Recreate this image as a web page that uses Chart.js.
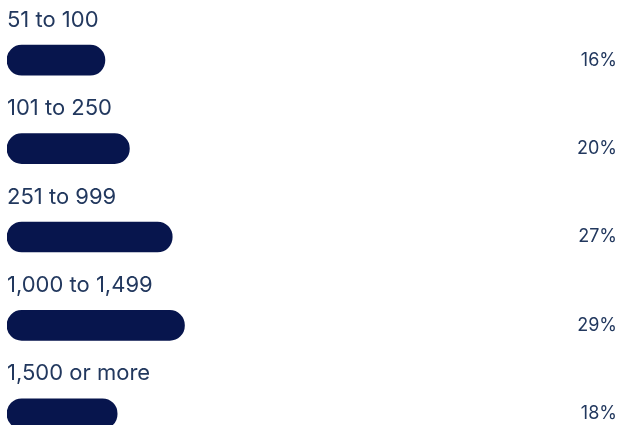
<!DOCTYPE html>
<html>
<head>
<meta charset="utf-8">
<script src="https://cdn.jsdelivr.net/npm/chart.js@4"></script>
<style>
  html, body { margin: 0; padding: 0; background: #ffffff; overflow: hidden; }
  #wrap { position: relative; width: 619px; height: 460px; }
</style>
</head>
<body>
<div id="wrap"><canvas id="c"></canvas></div>
<script>
const categories = ["51 to 100", "101 to 250", "251 to 999", "1,000 to 1,499", "1,500 or more"];
const values = [16, 20, 27, 29, 18];
const valueLabels = ["16%", "20%", "27%", "29%", "18%"];

const barColor = "#07154d";
const textColor = "#22385e";
const fontFamily = "Inter, 'Open Sans', sans-serif";

const labelPlugin = {
  id: "rowLabels",
  afterDatasetsDraw(chart) {
    const ctx = chart.ctx;
    const meta = chart.getDatasetMeta(0);
    const area = chart.chartArea;
    ctx.save();
    meta.data.forEach((bar, i) => {
      const y = bar.y;
      ctx.fillStyle = textColor;
      ctx.font = "22px " + fontFamily;
      ctx.textAlign = "left";
      ctx.textBaseline = "middle";
      ctx.fillText(categories[i], area.left, y - 40);
      ctx.font = "18px " + fontFamily;
      ctx.textAlign = "right";
      ctx.fillText(valueLabels[i], 617, y);
    });
    ctx.restore();
  }
};

new Chart(document.getElementById("c"), {
  type: "bar",
  data: {
    labels: categories,
    datasets: [{
      data: values,
      backgroundColor: barColor,
      borderRadius: 15,
      borderSkipped: false,
      barThickness: 30
    }]
  },
  options: {
    indexAxis: "y",
    responsive: true,
    maintainAspectRatio: false,
    animation: false,
    layout: { padding: { left: 7, right: 0, top: 16, bottom: 2 } },
    plugins: { legend: { display: false }, tooltip: { enabled: false } },
    scales: {
      x: { min: 0, max: 100, display: false },
      y: { display: false }
    }
  },
  plugins: [labelPlugin]
});
</script>
</body>
</html>
